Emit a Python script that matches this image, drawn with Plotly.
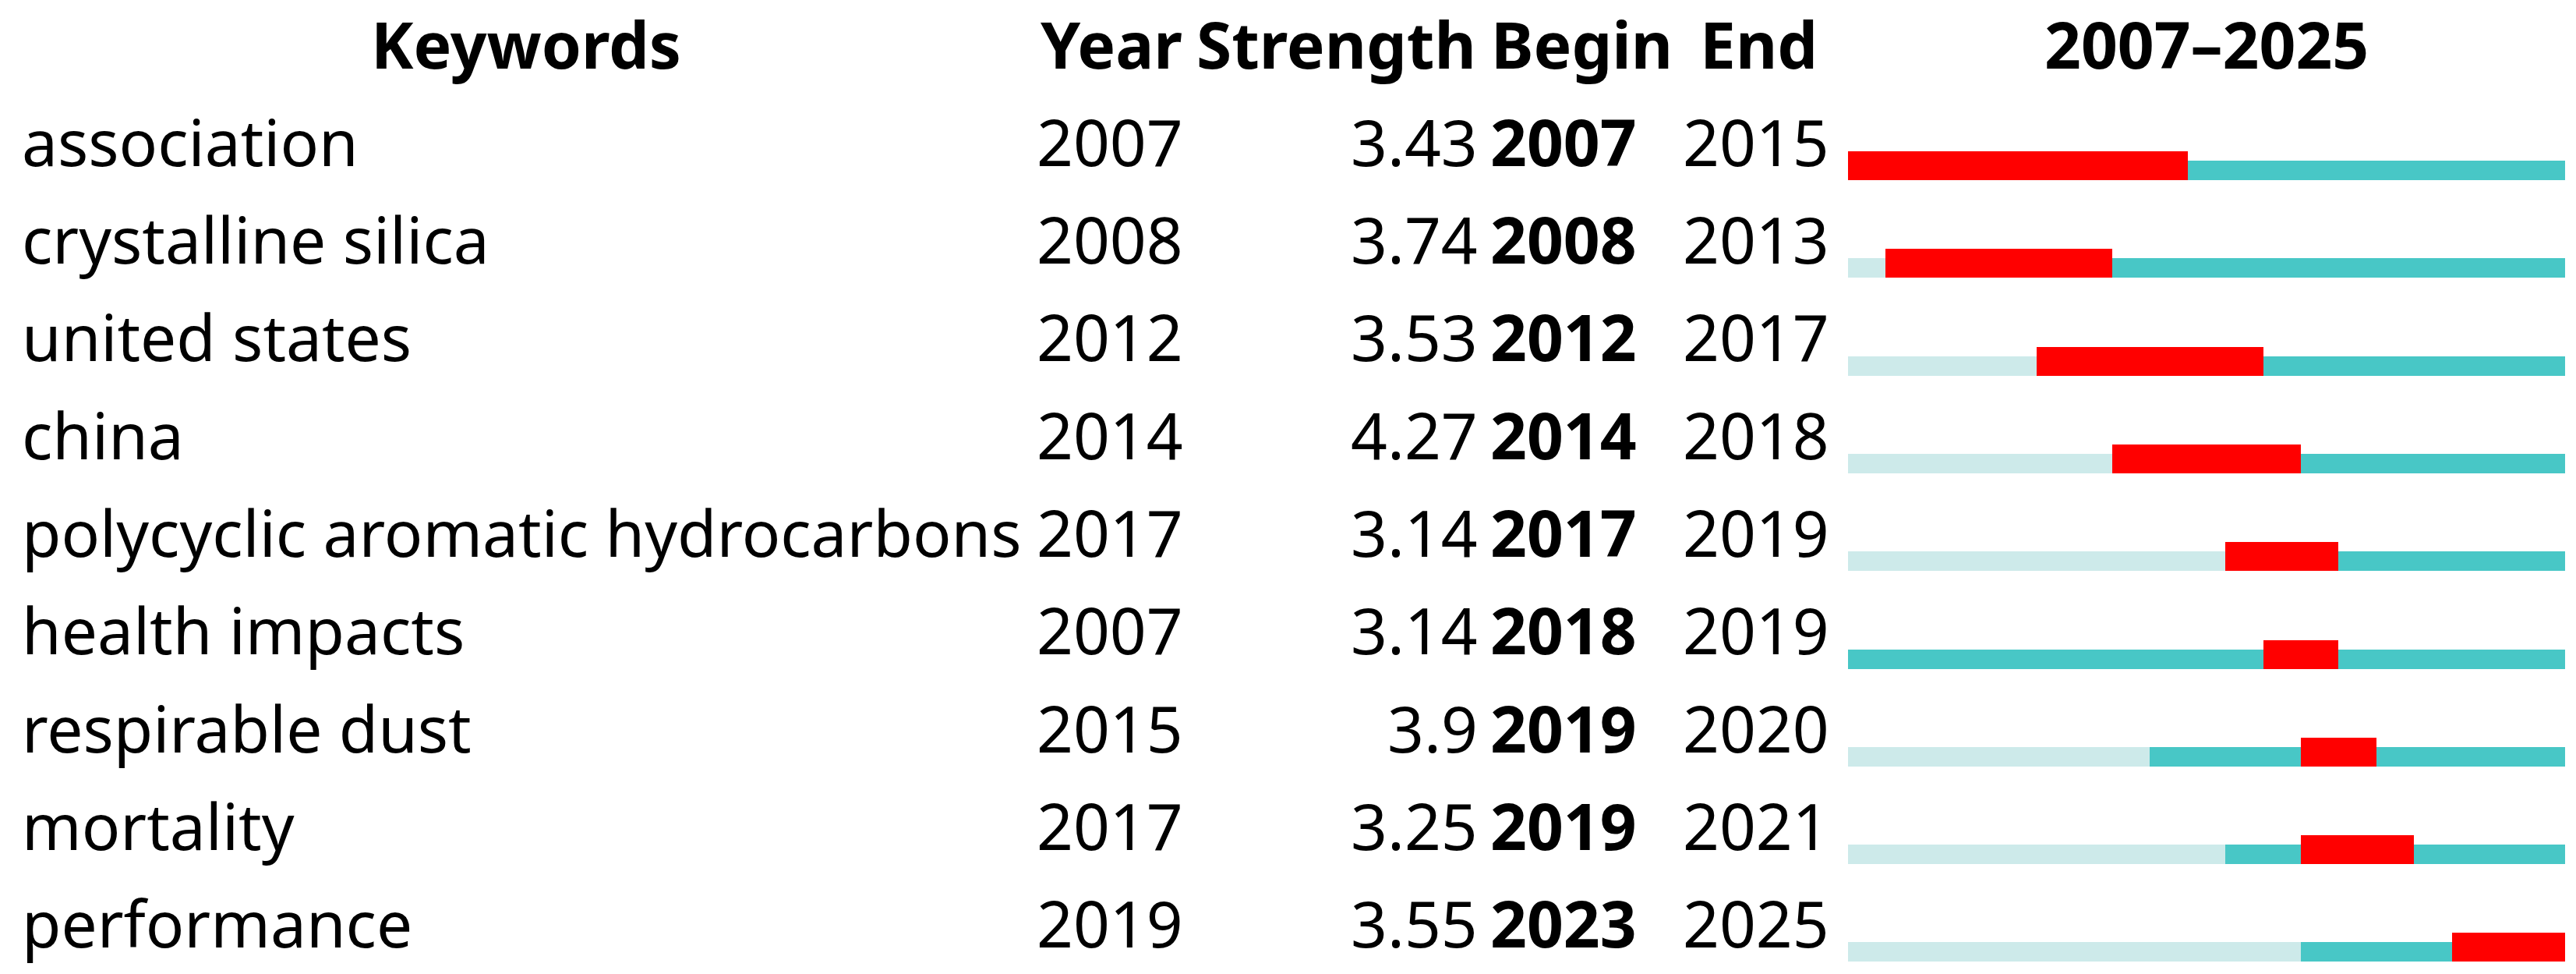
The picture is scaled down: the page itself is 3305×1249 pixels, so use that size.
import plotly.graph_objects as go

keywords = ["association", "crystalline silica", "united states", "china",
            "polycyclic aromatic hydrocarbons", "health impacts", "respirable dust",
            "mortality", "performance"]
years = [2007, 2008, 2012, 2014, 2017, 2007, 2015, 2017, 2019]
strengths = ["3.43", "3.74", "3.53", "4.27", "3.14", "3.14", "3.9", "3.25", "3.55"]
begins = [2007, 2008, 2012, 2014, 2017, 2018, 2019, 2019, 2023]
ends = [2015, 2013, 2017, 2018, 2019, 2019, 2020, 2021, 2025]
span_start, span_end = 2007, 2025
headers = ["Keywords", "Year", "Strength", "Begin", "End", "2007\u20132025"]

W, H = 3305, 1249
PITCH = 125.3
BAR_BOTTOM0 = 223
RED_H, BASE_H = 37, 25

RED = "#FF0000"
TEAL = "#48C7C6"
LIGHT = "#CDEAEA"

FONT = "Noto Sans"
FS = 82

rows = list(range(len(keywords)))
fig = go.Figure()

wb = BASE_H / PITCH
wr = RED_H / PITCH

# light segment: period before keyword first appeared
light_rows = [r for r in rows if years[r] > span_start]
fig.add_trace(go.Bar(
    orientation="h", y=light_rows,
    base=[span_start for r in light_rows],
    x=[years[r] - span_start for r in light_rows],
    width=wb, offset=-wb, marker=dict(color=LIGHT, line=dict(width=0)),
    hoverinfo="skip", showlegend=False))
# teal segment: from first appearance to end of span
fig.add_trace(go.Bar(
    orientation="h", y=rows,
    base=years,
    x=[span_end + 1 - years[r] for r in rows],
    width=wb, offset=-wb, marker=dict(color=TEAL, line=dict(width=0)),
    hoverinfo="skip", showlegend=False))
# red burst segment
fig.add_trace(go.Bar(
    orientation="h", y=rows,
    base=begins,
    x=[ends[r] + 1 - begins[r] for r in rows],
    width=wr, offset=-wr, marker=dict(color=RED, line=dict(width=0)),
    hoverinfo="skip", showlegend=False))

y_top = -BAR_BOTTOM0 / PITCH
y_bot = (H - BAR_BOTTOM0) / PITCH

fig.update_layout(
    width=W, height=H,
    margin=dict(l=0, r=0, t=0, b=0),
    paper_bgcolor="white", plot_bgcolor="white",
    barmode="overlay", bargap=0,
    xaxis=dict(domain=[2363 / W, 3283 / W], range=[span_start, span_end + 1],
               visible=False, fixedrange=True),
    yaxis=dict(domain=[0, 1], range=[y_bot, y_top], visible=False, fixedrange=True),
    showlegend=False,
)

TXT_OFF = 0.40

def ann(text, x, y, anchor, bold=False, xref="paper"):
    fig.add_annotation(
        text=f"<b>{text}</b>" if bold else text,
        x=x, y=y, xref=xref, yref="y",
        xanchor=anchor, yanchor="middle", showarrow=False,
        font=dict(family=FONT, size=FS, color="black"))

hy = -1 - TXT_OFF
ann(headers[0], 667 / W, hy, "center", bold=True)
ann(headers[1], 1418 / W, hy, "center", bold=True)
ann(headers[2], 1888 / W, hy, "right", bold=True)
ann(headers[3], 1903 / W, hy, "left", bold=True)
ann(headers[4], 2248 / W, hy, "center", bold=True)
ann(headers[5], (span_start + span_end + 1) / 2, hy, "center", bold=True, xref="x")

for r in rows:
    ty = r - TXT_OFF
    ann(keywords[r], 18 / W, ty, "left")
    ann(str(years[r]), 1416 / W, ty, "center")
    ann(strengths[r], 1890 / W, ty, "right")
    ann(str(begins[r]), 1902 / W, ty, "left", bold=True)
    ann(str(ends[r]), 2245 / W, ty, "center")

fig.write_html("out.html")
